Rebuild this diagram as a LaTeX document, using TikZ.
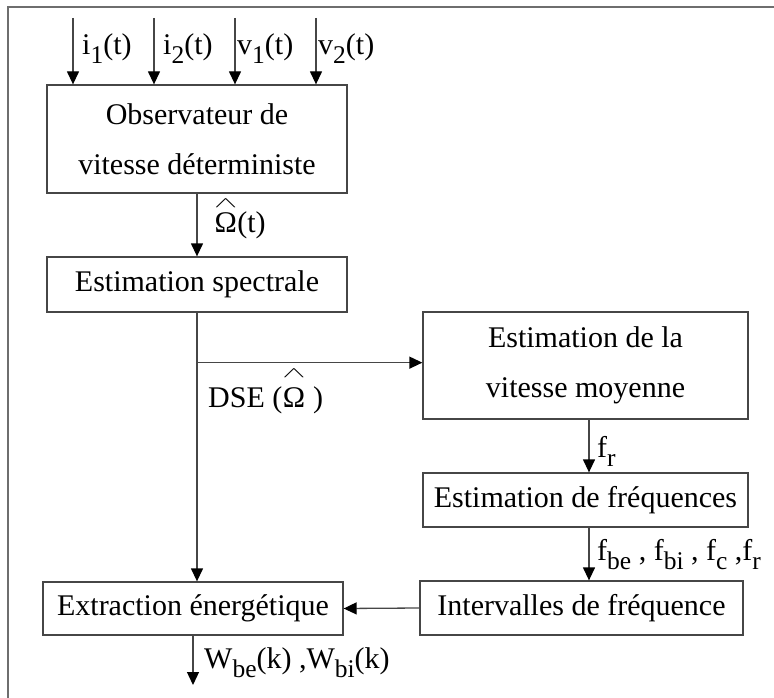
\documentclass[tikz,border=0pt]{standalone}
\usepackage{amsmath}
\usepackage{graphicx}
\usepackage{fontspec}
\setmainfont{Liberation Serif}
\usepackage{tikz}
\usetikzlibrary{positioning,arrows.meta}
\definecolor{linegray}{RGB}{70,70,70}
\definecolor{framegray}{RGB}{110,110,110}
\newcommand{\idx}[1]{\raisebox{-0.3em}{\scalebox{0.85}{#1}}}
\newcommand{\omhat}[1]{\ensuremath{\overset{\raisebox{#1}{\scalebox{1.4}[0.6]{$\wedge$}}}{\text{Ω}}}}

\tikzset{
  blk/.style={draw=linegray, line width=1.3pt, inner sep=0pt, align=center,
    font=\fontsize{30}{50}\selectfont},
  sig/.style={draw=linegray, line width=1.3pt,
    -{Triangle[length=13pt,width=12pt,color=black]}},
  lbl/.style={anchor=base west, inner sep=0pt, font=\fontsize{30}{36}\selectfont}
}

\begin{document}
\begin{tikzpicture}[x=1pt,y=-1pt]
\useasboundingbox (0,0) rectangle (774,698);
\draw[framegray, line width=2pt] (774,7) -- (8,7) -- (8,698);

% blocks
\node[blk, minimum width=300pt, minimum height=108pt] (obs) at (197,139) {Observateur de\\vitesse déterministe};
\node[blk, minimum width=300pt, minimum height=55pt] (spec) at (197,284.5) {Estimation spectrale};
\node[blk, minimum width=325pt, minimum height=107pt] (vmoy) at (585.5,365.5) {Estimation de la\\vitesse moyenne};
\node[blk, minimum width=325pt, minimum height=54pt] (freq) at (585.5,500) {Estimation de fréquences};
\node[blk, minimum width=323pt, minimum height=54pt] (interv) at (581.5,608) {Intervalles de fréquence};
\node[blk, minimum width=300pt, minimum height=53pt] (extr) at (193,608.5) {Extraction énergétique};

% inputs
\foreach \x/\nm in {73/ia,154/ib,235/va,316/vb}
  \coordinate (\nm) at (\x,18);
\foreach \nm in {ia,ib,va,vb}
  \draw[sig] (\nm) -- (\nm |- obs.north);
\node[lbl] (lia) at (82,55) {i\idx{1}(t)};
\node[lbl] (lib) at (163,55) {i\idx{2}(t)};
\node[lbl] (lva) at (237,55) {v\idx{1}(t)};
\node[lbl] (lvb) at (318,55) {v\idx{2}(t)};

% signal path
\coordinate (br) at ([yshift=-50pt]spec.south);
\coordinate (fa) at (589,0);
\coordinate (out) at (193,685);
\draw[sig] (obs.south) -- (spec.north);
\draw[sig] (spec.south) -- (spec.south |- extr.north);
\draw[sig] (br) -- (br -| vmoy.west);
\draw[sig] (fa |- vmoy.south) -- (fa |- freq.north);
\draw[sig] (fa |- freq.south) -- (fa |- interv.north);
\draw[sig] (interv.west) -- (extr.east);
\draw[sig] (extr.south) -- (out);

% labels
\node[lbl] (lom) at (214,233) {\omhat{1pt}(t)};
\node[lbl] (ldse) at (208,407) {DSE (\omhat{5pt}\ )};
\node[lbl] (lfr) at (597,457) {f\idx{r}};
\node[lbl] (lfq) at (597,560) {f\idx{be} , f\idx{bi} , f\idx{c} ,f\idx{r}};
\node[lbl] (lw) at (204,668) {W\idx{be}(k) ,W\idx{bi}(k)};
\end{tikzpicture}
\end{document}
